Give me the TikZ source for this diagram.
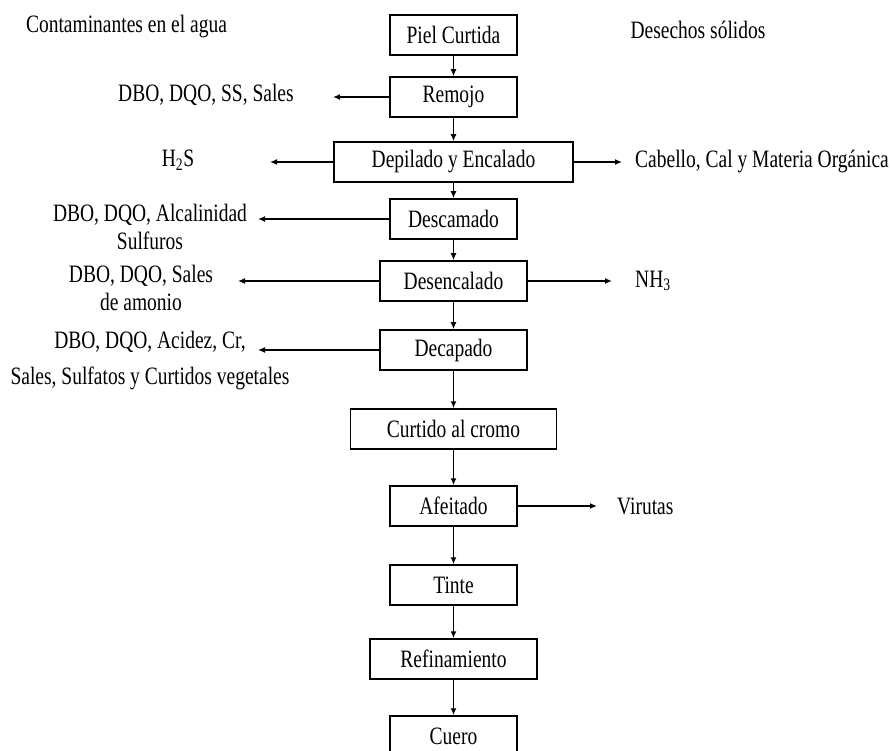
\documentclass[tikz,border=0pt]{standalone}
\usepackage{fontspec}
\setmainfont{Liberation Serif}[FakeStretch=0.78]
\usetikzlibrary{arrows.meta}
\begin{document}
\begin{tikzpicture}[x=1pt,y=-1pt,font=\fontsize{25}{28}\selectfont,
  box/.style={draw,line width=1.5pt,minimum height=40pt,inner sep=0pt},
  flow/.style={-{Latex[length=7pt,width=6pt]},line width=1.5pt},
  side/.style={align=center,inner sep=0pt}]
\useasboundingbox (0,0) rectangle (892,751);
% process chain
\foreach \n/\y/\w/\t in {
  piel/35/127/Piel Curtida, remojo/97/127/Remojo,
  depilado/162/239/Depilado y Encalado, descamado/219/127/Descamado,
  desencalado/281/147/Desencalado, decapado/350/147/Decapado,
  curtido/429/206/Curtido al cromo, afeitado/506/127/Afeitado,
  tinte/585/127/Tinte, refinamiento/659/167/Refinamiento,
  cuero/736/127/Cuero} {
  \node[box,minimum width=\w pt] (\n) at (453.5,\y) {\t};
}
\foreach \a/\b in {
  piel/remojo, remojo/depilado, depilado/descamado,
  descamado/desencalado, desencalado/decapado, decapado/curtido,
  curtido/afeitado, afeitado/tinte, tinte/refinamiento, refinamiento/cuero} {
  \draw[flow] (\a) -- (\b);
}
% headings
\node[side] (agua) at (126.5,27) {Contaminantes en el agua};
\node[side] (solidos) at (698,30) {Desechos sólidos};
% water pollutants
\coordinate (w1) at (333,97);
\coordinate (w2) at (270,162);
\coordinate (w3) at (258,219);
\coordinate (w4) at (238,281);
\coordinate (w5) at (258,350);
\node[side] (remojoW) at (206,95) {DBO, DQO, SS, Sales};
\node[side] (depiladoW) at (178,160) {H\textsubscript{2}S};
\node[side,anchor=north] (descamadoW) at (150,204) {DBO, DQO, Alcalinidad\\Sulfuros};
\node[side,anchor=north] (desencaladoW) at (141,265) {DBO, DQO, Sales\\de amonio};
\node[side,anchor=north] (decapadoW) at (150,331) {DBO, DQO, Acidez, Cr,\\[8pt]Sales, Sulfatos y Curtidos vegetales};
\foreach \a/\b in {remojo/w1, depilado/w2, descamado/w3, desencalado/w4, decapado/w5} {
  \draw[flow] (\a.west) -- (\b);
}
% solid waste
\coordinate (s1) at (622,162);
\coordinate (s2) at (612,281);
\coordinate (s3) at (597,506);
\node[side,anchor=west] (depiladoS) at (635,162) {Cabello, Cal y Materia Orgánica};
\node[side,anchor=west] (desencaladoS) at (635,281) {NH\textsubscript{3}};
\node[side,anchor=west] (afeitadoS) at (617,506) {Virutas};
\foreach \a/\b in {depilado/s1, desencalado/s2, afeitado/s3} {
  \draw[flow] (\a.east) -- (\b);
}
\end{tikzpicture}
\end{document}
